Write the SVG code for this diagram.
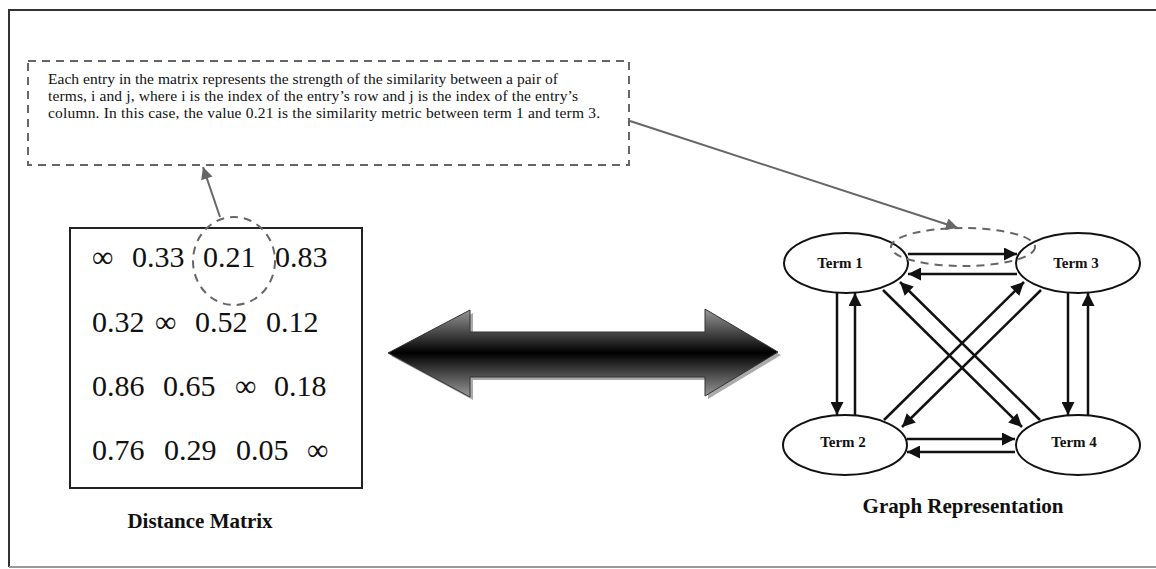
<svg xmlns="http://www.w3.org/2000/svg" width="1156" height="569" viewBox="0 0 1156 569">
<style>
.serif{font-family:"Liberation Serif","Times New Roman",serif;fill:#111}
.note{font-size:15.5px}
.cell{font-size:30px}
.lbl{font-size:15px;font-weight:bold}
.cap{font-size:21px;font-weight:bold}
.node{fill:#fff;stroke:#111;stroke-width:2}
.edge{stroke:#111;stroke-width:2.5;fill:none;marker-end:url(#ah)}
.gedge{stroke:#666;stroke-width:2;fill:none;marker-end:url(#gah)}
.dash{fill:none;stroke:#666;stroke-width:2;stroke-dasharray:8 6}
</style>
<defs>
<marker id="ah" viewBox="0 0 10 10" refX="10" refY="5" markerWidth="15" markerHeight="13" markerUnits="userSpaceOnUse" orient="auto"><path d="M0,0 L10,5 L0,10 z" fill="#111"/></marker>
<marker id="gah" viewBox="0 0 10 10" refX="10" refY="5" markerWidth="15" markerHeight="12" markerUnits="userSpaceOnUse" orient="auto"><path d="M0,0 L10,5 L0,10 z" fill="#666"/></marker>
<linearGradient id="bar" x1="0" y1="0" x2="0" y2="1">
<stop offset="0" stop-color="#9a9a9a"/><stop offset="0.5" stop-color="#000"/><stop offset="1" stop-color="#9a9a9a"/>
</linearGradient>
</defs>
<rect width="1156" height="569" fill="#fff"/>
<g id="frame">
<path d="M9,567 L9,10 L1156,10" fill="none" stroke="#333" stroke-width="2"/>
<line x1="9" y1="567" x2="1156" y2="567" stroke="#999" stroke-width="2"/>
</g>
<g id="note">
<rect x="28" y="61" width="601" height="104" class="dash" stroke="#555" stroke-dasharray="7 5" stroke-width="1.5"/>
<text class="serif note" x="48" y="84" textLength="510" lengthAdjust="spacing">Each entry in the matrix represents the strength of the similarity between a pair of</text>
<text class="serif note" x="48" y="101" textLength="530" lengthAdjust="spacing">terms, i and j, where i is the index of the entry’s row and j is the index of the entry’s</text>
<text class="serif note" x="48" y="118" textLength="552" lengthAdjust="spacing">column. In this case, the value 0.21 is the similarity metric between term 1 and term 3.</text>
</g>
<g id="matrix">
<rect x="70" y="228" width="292" height="260" fill="none" stroke="#222" stroke-width="2"/>
<text class="serif cell" y="267"><tspan x="92">∞</tspan><tspan x="132">0.33</tspan><tspan x="203">0.21</tspan><tspan x="275">0.83</tspan></text>
<text class="serif cell" y="332"><tspan x="92">0.32</tspan><tspan x="155">∞</tspan><tspan x="195">0.52</tspan><tspan x="266">0.12</tspan></text>
<text class="serif cell" y="396"><tspan x="92">0.86</tspan><tspan x="163">0.65</tspan><tspan x="235">∞</tspan><tspan x="274">0.18</tspan></text>
<text class="serif cell" y="460"><tspan x="92">0.76</tspan><tspan x="164">0.29</tspan><tspan x="236">0.05</tspan><tspan x="307">∞</tspan></text>
<ellipse cx="234" cy="261" rx="41" ry="44" class="dash"/>
<text class="serif cap" x="200" y="528" text-anchor="middle">Distance Matrix</text>
</g>
<g id="double-arrow">
<polygon points="391,356 473,313 473,335 708,335 708,312 781,355 708,399 708,380 473,380 473,400" fill="#aaa"/>
<polygon points="388,353 470,310 470,332 705,332 705,309 778,352 705,396 705,377 470,377 470,397" fill="url(#bar)" stroke="#333" stroke-width="1"/>
</g>
<g id="term1"><ellipse cx="846" cy="263" rx="62" ry="30" class="node"/><text class="serif lbl" x="840" y="268" text-anchor="middle">Term 1</text></g>
<g id="term3"><ellipse cx="1078" cy="263" rx="62" ry="30" class="node"/><text class="serif lbl" x="1076" y="268" text-anchor="middle">Term 3</text></g>
<g id="term2"><ellipse cx="845" cy="445" rx="62" ry="30" class="node"/><text class="serif lbl" x="843" y="447" text-anchor="middle">Term 2</text></g>
<g id="term4"><ellipse cx="1078" cy="445" rx="62" ry="30" class="node"/><text class="serif lbl" x="1074" y="447" text-anchor="middle">Term 4</text></g>
<g id="graph-caption"><text class="serif cap" x="963" y="513" text-anchor="middle">Graph Representation</text></g>
<g id="connectors">
<line x1="908" y1="254" x2="1017" y2="254" class="edge"/>
<line x1="1017" y1="274" x2="908" y2="274" class="edge"/>
<line x1="907" y1="439" x2="1015" y2="439" class="edge"/>
<line x1="1015" y1="452" x2="907" y2="452" class="edge"/>
<line x1="837" y1="293" x2="837" y2="415" class="edge"/>
<line x1="855" y1="415" x2="855" y2="293" class="edge"/>
<line x1="1068" y1="293" x2="1068" y2="415" class="edge"/>
<line x1="1088" y1="415" x2="1088" y2="293" class="edge"/>
<line x1="883" y1="290" x2="1022" y2="427" class="edge"/>
<line x1="1040" y1="420" x2="900" y2="282" class="edge"/>
<line x1="884" y1="420" x2="1024" y2="282" class="edge"/>
<line x1="1041" y1="290" x2="902" y2="427" class="edge"/>
<ellipse cx="963" cy="247" rx="72" ry="19" class="dash"/>
<line x1="220" y1="217" x2="203" y2="167" class="gedge"/>
<line x1="630" y1="121" x2="958" y2="228" class="gedge"/>
</g>
</svg>
